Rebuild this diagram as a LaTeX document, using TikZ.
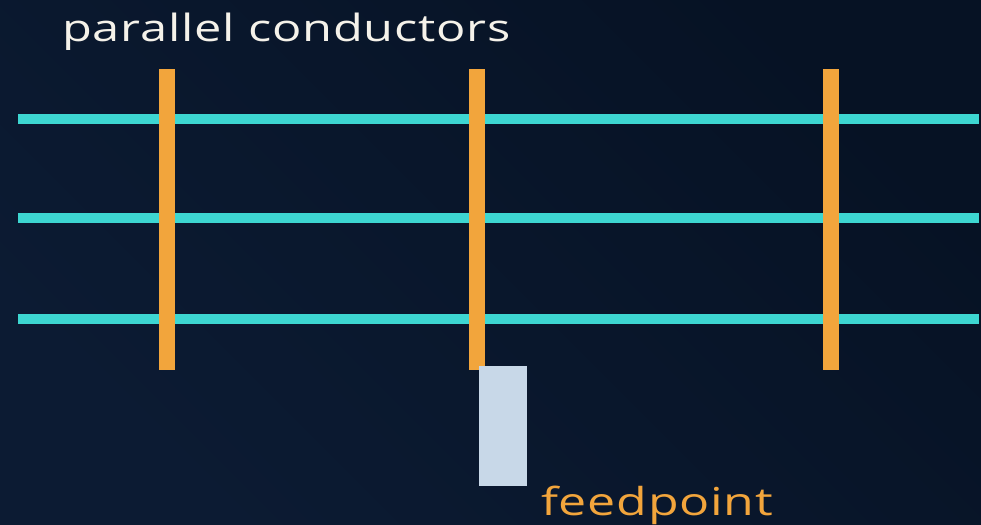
\documentclass[tikz,border=0pt]{standalone}
\usepackage{fontspec}
\setmainfont{Open Sans}[FakeStretch=1.3, LetterSpace=2]
\definecolor{bgA}{HTML}{0C1B33}
\definecolor{bgB}{HTML}{061224}
\definecolor{wire}{HTML}{3DD6D1}
\definecolor{rod}{HTML}{F2A53C}
\definecolor{feed}{HTML}{C8D8E8}
\definecolor{titletext}{HTML}{F5F2EA}
\tikzset{
  wireline/.style={fill=wire},
  rodbar/.style={fill=rod},
  feedbox/.style={fill=feed},
  lbl/.style={inner sep=0pt, anchor=base west}
}
\begin{document}
\begin{tikzpicture}[x=1pt,y=-1pt]
\shade[left color=bgA, right color=bgB, shading angle=135] (0,0) rectangle (981,524);
\useasboundingbox (0,0) rectangle (981,524);
% horizontal conductors
\fill[wireline] (18,114) rectangle (979,124);
\fill[wireline] (18,213) rectangle (979,223);
\fill[wireline] (18,314) rectangle (979,324);
% vertical bars
\fill[rodbar] (159,69) rectangle (175,370);
\fill[rodbar] (469,69) rectangle (485,370);
\fill[rodbar] (823,69) rectangle (839,370);
% feed box
\fill[feedbox] (479,366) rectangle (527,486);
\node[lbl, text=titletext, font=\fontsize{37.5}{40}\selectfont] (title) at (62,42) {parallel conductors};
\node[lbl, text=rod, font=\fontsize{38.5}{42}\selectfont] (fp) at (541,515) {feedpoint};
\end{tikzpicture}
\end{document}
